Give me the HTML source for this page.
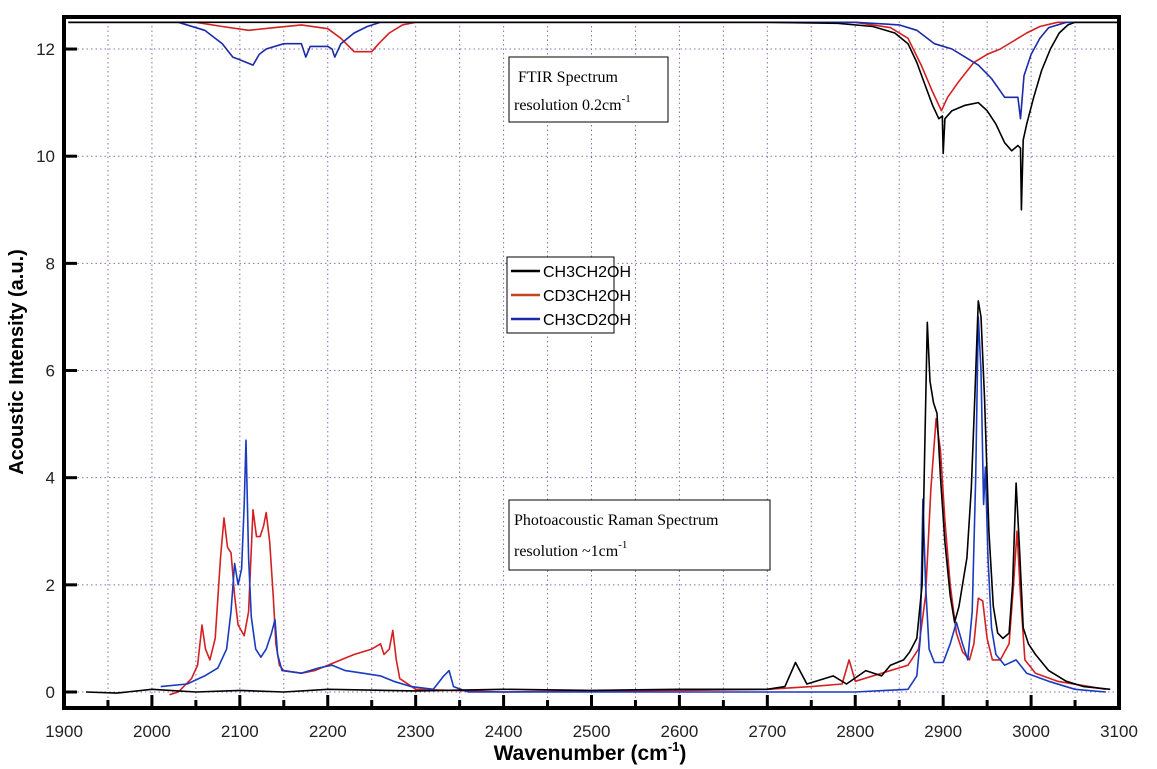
<!DOCTYPE html>
<html><head><meta charset="utf-8"><style>
body{margin:0;background:#fff;}
svg{display:block;font-family:"Liberation Sans",sans-serif;}
</style></head><body>
<svg id="c" width="1157" height="769"></svg>
<script>
const xTicks=[1900,2000,2100,2200,2300,2400,2500,2600,2700,2800,2900,3000,3100];
const yTicks=[0,2,4,6,8,10,12];
const ramanCH3CH2OH_x=[1925,1960,2000,2050,2100,2150,2200,2300,2400,2500,2600,2700,2720,2732,2745,2775,2790,2812,2830,2840,2855,2862,2870,2876,2879,2882,2885,2889,2893,2897,2902,2908,2913,2918,2922,2927,2932,2936,2940,2943,2947,2952,2957,2962,2968,2975,2979,2983,2987,2991,2997,3005,3020,3040,3060,3090];
const ramanCH3CH2OH_y=[0,-0.02,0.05,0,0.03,0,0.05,0.02,0.05,0.03,0.05,0.05,0.1,0.55,0.15,0.3,0.15,0.4,0.3,0.5,0.6,0.75,1.0,2.0,4.5,6.9,5.8,5.4,5.2,4.0,2.8,1.8,1.3,1.6,2.0,2.5,3.8,5.5,7.3,7.0,5.5,3.0,1.6,1.1,1.0,1.1,2.0,3.9,2.6,1.2,0.9,0.7,0.4,0.2,0.1,0.05];
const ramanCD3CH2OH_x=[2020,2030,2045,2052,2057,2061,2066,2072,2078,2082,2086,2090,2094,2098,2105,2110,2115,2119,2123,2127,2130,2134,2138,2141,2145,2150,2170,2185,2200,2215,2230,2250,2260,2264,2270,2274,2278,2282,2300,2400,2500,2600,2700,2750,2785,2793,2800,2850,2860,2872,2880,2886,2892,2897,2902,2908,2915,2922,2930,2935,2940,2945,2950,2956,2965,2975,2980,2984,2988,2993,3005,3030,3085];
const ramanCD3CH2OH_y=[-0.05,0.0,0.25,0.5,1.25,0.8,0.6,1.0,2.5,3.25,2.7,2.6,1.8,1.25,1.05,1.5,3.4,2.9,2.9,3.1,3.35,2.8,1.8,0.9,0.5,0.4,0.35,0.4,0.5,0.6,0.7,0.8,0.9,0.7,0.8,1.15,0.6,0.25,0.05,0.0,0.02,0.03,0.05,0.1,0.15,0.6,0.2,0.45,0.5,0.8,1.8,3.8,5.1,4.5,3.2,2.0,1.1,0.75,0.6,0.9,1.75,1.7,1.0,0.6,0.6,0.9,2.0,3.0,1.8,0.6,0.35,0.2,0.05];
const ramanCH3CD2OH_x=[2010,2040,2060,2075,2085,2090,2094,2098,2102,2105,2107,2110,2113,2118,2124,2130,2136,2140,2143,2148,2170,2190,2205,2220,2240,2260,2275,2295,2320,2332,2338,2343,2360,2500,2700,2800,2860,2870,2874,2877,2880,2884,2890,2900,2908,2915,2922,2928,2933,2937,2940,2943,2946,2948,2951,2955,2960,2970,2983,2995,3020,3050,3085];
const ramanCH3CD2OH_y=[0.1,0.15,0.3,0.45,0.8,1.5,2.4,2.0,2.3,3.5,4.7,2.5,1.4,0.8,0.65,0.8,1.1,1.35,0.7,0.4,0.35,0.45,0.5,0.4,0.35,0.3,0.2,0.1,0.05,0.3,0.4,0.1,0.0,0.0,0.0,0.0,0.05,0.3,1.0,3.6,2.0,0.8,0.55,0.55,0.9,1.3,0.9,0.6,1.5,4.0,7.0,6.0,3.5,4.2,2.5,1.2,0.7,0.5,0.6,0.35,0.2,0.05,0.0];
const ftirCH3CH2OH_x=[1905,2100,2400,2700,2780,2820,2845,2860,2870,2880,2888,2895,2899,2900,2902,2910,2925,2940,2950,2960,2970,2978,2985,2988,2989,2991,2995,3003,3012,3022,3032,3042,3050,3110];
const ftirCH3CH2OH_y=[12.5,12.5,12.5,12.5,12.48,12.42,12.3,12.1,11.75,11.3,10.95,10.7,10.75,10.05,10.7,10.85,10.95,11.0,10.85,10.6,10.25,10.1,10.2,10.15,9.0,10.3,10.6,11.1,11.6,12.0,12.3,12.45,12.5,12.5];
const ftirCD3CH2OH_x=[1905,2050,2080,2110,2140,2170,2200,2215,2230,2250,2258,2270,2285,2300,2800,2840,2860,2875,2888,2898,2905,2918,2935,2950,2965,2980,2995,3010,3030,3110];
const ftirCD3CH2OH_y=[12.5,12.5,12.42,12.35,12.4,12.45,12.38,12.2,11.95,11.95,12.1,12.3,12.45,12.5,12.5,12.4,12.2,11.7,11.2,10.85,11.1,11.4,11.75,11.9,12.0,12.15,12.3,12.42,12.5,12.5];
const ftirCH3CD2OH_x=[1905,2030,2060,2080,2092,2100,2115,2122,2130,2150,2170,2175,2180,2200,2205,2208,2215,2230,2245,2260,2800,2850,2870,2890,2910,2925,2940,2955,2970,2985,2988,2992,3000,3010,3020,3040,3110];
const ftirCH3CD2OH_y=[12.5,12.5,12.35,12.1,11.85,11.8,11.7,11.9,12.0,12.1,12.1,11.85,12.05,12.05,12.0,11.85,12.1,12.3,12.42,12.5,12.5,12.45,12.35,12.1,12.0,11.85,11.7,11.45,11.1,11.1,10.7,11.5,11.9,12.2,12.4,12.5,12.5];

const L=64,R=1119,T=17,B=708;
const X=v=>L+(v-1900)*(R-L)/1200;
const Y=v=>692-v*53.58;
const NS='http://www.w3.org/2000/svg';
const svg=document.getElementById('c');
function mk(t,a,p){const e=document.createElementNS(NS,t);for(const k in a)e.setAttribute(k,a[k]);(p||svg).appendChild(e);return e;}
const defs=mk('defs',{});
const cp=mk('clipPath',{id:'clip'},defs);
mk('rect',{x:L,y:T,width:R-L,height:B-T},cp);
for(let w=1950;w<3100;w+=50){const g=mk('line',{x1:X(w),x2:X(w),y1:T,y2:B,stroke:'#8a6fb0','stroke-width':1,'stroke-dasharray':'1.5,3'});

}
yTicks.forEach(v=>{const g=mk('line',{x1:L,x2:R,y1:Y(v),y2:Y(v),stroke:'#8a6fb0','stroke-width':1,'stroke-dasharray':'1.5,3'});

});
const plot=mk('g',{'clip-path':'url(#clip)'});
function series(xs,ys,col,name){const d=xs.map((x,i)=>(i?'L':'M')+X(x).toFixed(1)+','+Y(ys[i]).toFixed(1)).join('');
const p=mk('path',{d:d,fill:'none',stroke:col,'stroke-width':1.6,'stroke-linejoin':'round'},plot);

}
series(ftirCD3CH2OH_x,ftirCD3CH2OH_y,'#d42020','ftir-cd3ch2oh-line');
series(ftirCH3CD2OH_x,ftirCH3CD2OH_y,'#1a2aa8','ftir-ch3cd2oh-line');
series(ftirCH3CH2OH_x,ftirCH3CH2OH_y,'#000','ftir-ch3ch2oh-line');
series(ramanCD3CH2OH_x,ramanCD3CH2OH_y,'#d42020','raman-cd3ch2oh-line');
series(ramanCH3CD2OH_x,ramanCH3CD2OH_y,'#1a3ac0','raman-ch3cd2oh-line');
series(ramanCH3CH2OH_x,ramanCH3CH2OH_y,'#000','raman-ch3ch2oh-line');
const f=mk('rect',{x:L,y:T,width:R-L,height:B-T,fill:'none',stroke:'#000','stroke-width':4});


for(let w=1950;w<3100;w+=50){const major=w%100===0;const t=mk('line',{x1:X(w),x2:X(w),y1:B,y2:B-(major?13:8),stroke:'#000','stroke-width':3});

}
xTicks.forEach(w=>{const t=mk('text',{x:X(w),y:B+29,'text-anchor':'middle','font-size':17,fill:'#222'});t.textContent=w;

});
yTicks.forEach(v=>{const t=mk('line',{x1:L,x2:L+13,y1:Y(v),y2:Y(v),stroke:'#000','stroke-width':3});


const l=mk('text',{x:L-9,y:Y(v)+6,'text-anchor':'end','font-size':17,fill:'#222'});l.textContent=v;

});
</script>
<svg width="1157" height="769" style="position:absolute;left:0;top:0">
<text x="590" y="760" text-anchor="middle" font-family="Liberation Sans" font-weight="bold" font-size="21">Wavenumber  (cm<tspan dy="-9" font-size="13">-1</tspan><tspan dy="9">)</tspan></text>
<text transform="translate(23,362) rotate(-90)" text-anchor="middle" font-family="Liberation Sans" font-weight="bold" font-size="20">Acoustic Intensity (a.u.)</text>
<g>
<rect x="507" y="257" width="107" height="76" fill="#fff" stroke="#000" stroke-width="1"/>
<line x1="511" y1="271" x2="540" y2="271" stroke="#000" stroke-width="2.5"/>
<text x="543" y="277" font-size="16" font-family="Liberation Sans">CH3CH2OH</text>
<line x1="511" y1="295" x2="540" y2="295" stroke="#c0441c" stroke-width="2.5"/>
<text x="543" y="301" font-size="16" font-family="Liberation Sans">CD3CH2OH</text>
<line x1="511" y1="319" x2="540" y2="319" stroke="#1a2aa8" stroke-width="2.5"/>
<text x="543" y="325" font-size="16" font-family="Liberation Sans">CH3CD2OH</text>
</g>
<g>
<rect x="509" y="57" width="159" height="65" fill="#fff" stroke="#000" stroke-width="1"/>
<text x="518" y="82" font-size="16" font-family="Liberation Serif">FTIR Spectrum</text>
<text x="514" y="110" font-size="16" font-family="Liberation Serif">resolution 0.2cm<tspan dy="-8" font-size="11">-1</tspan></text>
</g>
<g>
<rect x="509" y="500" width="261" height="70" fill="#fff" stroke="#000" stroke-width="1"/>
<text x="514" y="525" font-size="16" font-family="Liberation Serif">Photoacoustic Raman Spectrum</text>
<text x="514" y="556" font-size="16" font-family="Liberation Serif">resolution  ~1cm<tspan dy="-8" font-size="11">-1</tspan></text>
</g>
</svg>
</body></html>
